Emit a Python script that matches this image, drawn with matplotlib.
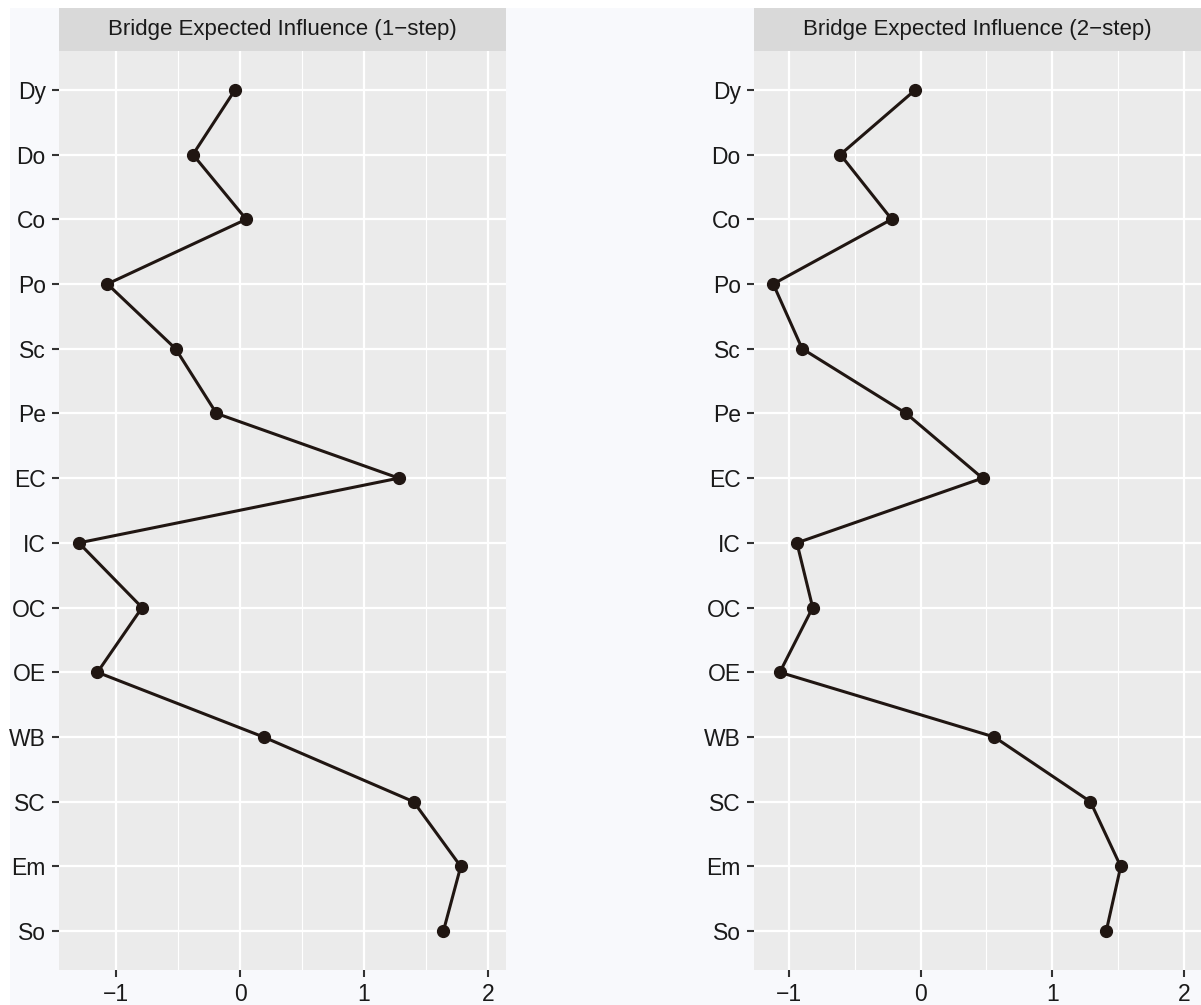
import numpy as np
import matplotlib
matplotlib.use("Agg")
import matplotlib.pyplot as plt
from matplotlib.patches import Rectangle

plt.rcParams['font.family'] = ['Liberation Sans', 'DejaVu Sans']

# nodes, listed top to bottom
nodes = ["Dy", "Do", "Co", "Po", "Sc", "Pe", "EC", "IC", "OC", "OE", "WB", "SC", "Em", "So"]

# bridge expected influence (z-scores)
bei_1step = [-0.04, -0.38, 0.05, -1.07, -0.52, -0.19, 1.28, -1.30, -0.79, -1.15, 0.19, 1.40, 1.78, 1.64]
bei_2step = [-0.04, -0.61, -0.22, -1.12, -0.90, -0.11, 0.47, -0.94, -0.82, -1.07, 0.56, 1.29, 1.52, 1.41]

titles = ["Bridge Expected Influence (1\u2212step)", "Bridge Expected Influence (2\u2212step)"]
xlims = [(-1.46, 2.145), (-1.266, 2.13)]

W, H = 1201, 1005
fig = plt.figure(figsize=(W / 100, H / 100), dpi=100, facecolor="#F8F9FC")
# thin white margin along top and left
fig.patches.append(Rectangle((0, 1 - 8 / H), 1, 8 / H, transform=fig.transFigure,
                             facecolor="white", edgecolor="none", zorder=-1))
fig.patches.append(Rectangle((0, 0), 10 / W, 1, transform=fig.transFigure,
                             facecolor="white", edgecolor="none", zorder=-1))

panel_left = [59, 754]
panel_w = 447
top_px, bot_px, strip_top = 51, 970, 8

ypos = np.arange(len(nodes), 0, -1)

for i, (vals, title, xl) in enumerate(zip([bei_1step, bei_2step], titles, xlims)):
    x0 = panel_left[i] / W
    ax = fig.add_axes([x0, 1 - bot_px / H, panel_w / W, (bot_px - top_px) / H])
    ax.set_facecolor("#EBEBEB")
    for s in ax.spines.values():
        s.set_visible(False)
    ax.set_xticks([-1, 0, 1, 2])
    ax.set_xticks([-1.5, -0.5, 0.5, 1.5], minor=True)
    ax.set_yticks(ypos)
    ax.set_yticklabels(nodes)
    # limits after ticks so the minor ticks don't widen the view
    ax.set_xlim(*xl)
    ax.set_ylim(0.4, len(nodes) + 0.6)
    ax.grid(True, which="major", color="white", linewidth=1.6)
    ax.grid(True, which="minor", axis="x", color="white", linewidth=0.8)
    ax.set_axisbelow(True)
    ax.tick_params(axis="both", which="major", length=5, width=1.5, color="#333333",
                   labelsize=16.5, labelcolor="#1a1a1a")
    ax.tick_params(axis="y", which="major", pad=4.5)
    ax.tick_params(axis="x", which="major", pad=4)
    ax.tick_params(axis="both", which="minor", length=0)
    ax.plot(vals, ypos, color="#201612", linewidth=2.2, marker="o", markersize=8.5,
            markerfacecolor="#201612", markeredgecolor="#201612", zorder=3)

    # facet strip
    sax = fig.add_axes([x0, 1 - top_px / H, panel_w / W, (top_px - strip_top) / H])
    sax.set_facecolor("#D9D9D9")
    sax.set_xticks([])
    sax.set_yticks([])
    for s in sax.spines.values():
        s.set_visible(False)
    sax.text(0.5, 0.5, title, ha="center", va="center", fontsize=16,
             color="#1a1a1a", transform=sax.transAxes)

fig.savefig("out.png", dpi=100, facecolor=fig.get_facecolor())
